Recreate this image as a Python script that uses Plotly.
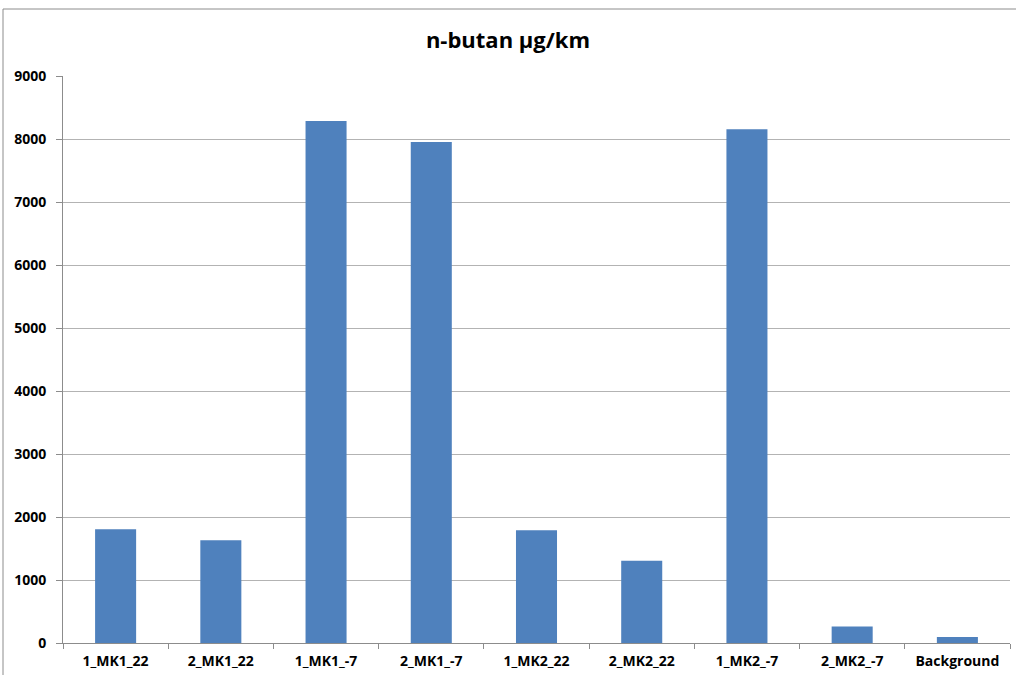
import plotly.graph_objects as go

categories = ["1_MK1_22", "2_MK1_22", "1_MK1_-7", "2_MK1_-7", "1_MK2_22",
              "2_MK2_22", "1_MK2_-7", "2_MK2_-7", "Background"]
values = [1805, 1632, 8284, 7953, 1790, 1305, 8153, 262, 95]
y_ticks = [0, 1000, 2000, 3000, 4000, 5000, 6000, 7000, 8000, 9000]

W, H = 1016, 675
ml, mr, mt, mb = 63, 6, 76, 32

fig = go.Figure(go.Bar(x=categories, y=values, marker_color="#4F81BD",
                       marker_line_width=0, width=0.39))

pw = W - ml - mr
ph = H - mt - mb
bx = (3 - ml) / pw
by = (H - mb - 9) / ph

fig.update_layout(
    width=W, height=H,
    margin=dict(l=ml, r=mr, t=mt, b=mb, pad=0),
    plot_bgcolor="white", paper_bgcolor="white",
    font=dict(family="Open Sans", color="black"),
    title=dict(text="<b>n-butan µg/km</b>", x=0.5, xanchor="center",
               y=1 - 40 / H, yanchor="middle",
               font=dict(size=22, family="Open Sans", color="black")),
    showlegend=False,
    bargap=0.61,
    shapes=[
        dict(type="line", xref="paper", yref="paper", x0=bx, x1=bx, y0=-0.2, y1=by,
             line=dict(color="#8c8c8c", width=1)),
        dict(type="line", xref="paper", yref="paper", x0=bx, x1=1.02, y0=by, y1=by,
             line=dict(color="#8c8c8c", width=1)),
    ],
)
fig.update_xaxes(type="category", showgrid=False, showline=True, linecolor="#8c8c8c",
                 linewidth=1, ticks="outside", tickson="boundaries", ticklen=5,
                 tickcolor="#8c8c8c", ticklabelstandoff=5, automargin=False,
                 tickvals=categories,
                 ticktext=["<b>%s</b>" % c for c in categories],
                 tickfont=dict(size=14, family="Open Sans", color="black"))
fig.update_yaxes(range=[0, 9000], tickvals=y_ticks,
                 ticktext=["<b>%d</b>" % v for v in y_ticks],
                 showgrid=True, gridcolor="#b3b3b3",
                 gridwidth=1, showline=True, linecolor="#8c8c8c", linewidth=1,
                 ticks="outside", ticklen=6, tickcolor="#8c8c8c", zeroline=False,
                 ticklabelstandoff=7, automargin=False,
                 tickfont=dict(size=14, family="Open Sans", color="black"))

fig.write_html("out.html")
